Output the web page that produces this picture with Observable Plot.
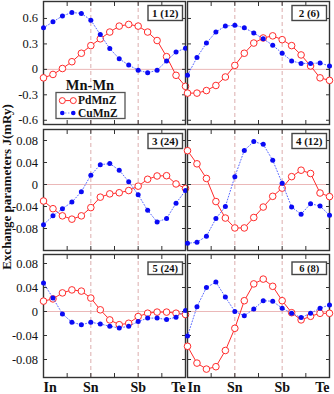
<!DOCTYPE html>
<html><head><meta charset="utf-8">
<script src="https://cdn.jsdelivr.net/npm/d3@7"></script>
<script src="https://cdn.jsdelivr.net/npm/@observablehq/plot@0.6"></script>
<style>
body{margin:0;background:#fff;}
#chart{position:relative;width:334px;height:394px;overflow:hidden;font-family:"Liberation Serif",serif;}
#chart svg{position:absolute;overflow:visible;background:transparent;}
</style></head><body><div id="chart"></div>
<script>
// ---- data ----
const steps = [0, 0.2, 0.4, 0.6, 0.8, 1.0, 1.2, 1.4, 1.6, 1.8, 2.0, 2.2, 2.4, 2.6, 2.8, 3.0];
const categories = ["In", "Sn", "Sb", "Te"];
const categoryPos = [0, 1, 2, 3];
const minorX = [0.5, 1, 1.5, 2, 2.5];
const yTicksTop = [-0.6, -0.3, 0, 0.3, 0.6];
const yTicksSmall = [-0.08, -0.04, 0, 0.04, 0.08];
const panelLabels = ["1 (12)", "2 (6)", "3 (24)", "4 (12)", "5 (24)", "6 (8)"];
const seriesNames = ["PdMnZ", "CuMnZ"];
const groupTitle = "Mn-Mn";
const yTitle = "Exchange parameters J(mRy)";

const pd1 = [-0.10, -0.06, 0.01, 0.09, 0.19, 0.28, 0.36, 0.44, 0.51, 0.53, 0.51, 0.44, 0.34, 0.15, -0.07, -0.20];
const cu1 = [0.49, 0.56, 0.63, 0.67, 0.66, 0.58, 0.41, 0.245, 0.125, 0.05, -0.01, -0.04, -0.01, 0.10, 0.205, 0.25];
const pd2 = [-0.28, -0.28, -0.25, -0.19, -0.09, 0.047, 0.19, 0.31, 0.37, 0.395, 0.35, 0.28, 0.17, 0.04, -0.10, -0.13];
const cu2 = [-0.07, 0.14, 0.31, 0.44, 0.51, 0.52, 0.49, 0.43, 0.36, 0.285, 0.19, 0.10, 0.07, 0.07, 0.075, 0.04];
const pd3 = [-0.030, -0.044, -0.057, -0.063, -0.057, -0.042, -0.023, -0.017, -0.015, -0.011, -0.003, 0.0095, 0.0155, 0.016, 0.001, -0.007];
const cu3 = [-0.073, -0.057, -0.044, -0.032, -0.013, 0.017, 0.036, 0.038, 0.026, 0.005, -0.0185, -0.047, -0.068, -0.062, -0.034, -0.011];
const pd4 = [0.0615, 0.0376, 0.011, -0.031, -0.061, -0.079, -0.079, -0.060, -0.041, -0.0215, -0.0066, 0.0143, 0.026, 0.020, -0.0155, -0.022];
const cu4 = [-0.107, -0.105, -0.094, -0.062, -0.040, 0.0143, 0.062, 0.078, 0.073, 0.044, 0.0024, -0.041, -0.054, -0.035, -0.039, -0.056];
const pd5 = [0.0173, 0.021, 0.031, 0.036, 0.034, 0.0224, 0.0028, -0.014, -0.022, -0.0196, -0.0084, -0.0028, -0.001, -0.001, -0.0028, -0.005];
const cu5 = [0.0476, 0.0224, -0.004, -0.018, -0.022, -0.018, -0.0207, -0.0246, -0.0274, -0.0246, -0.0168, -0.011, -0.011, -0.0134, -0.0095, 0.0017];
const pd6 = [-0.058, -0.086, -0.096, -0.092, -0.065, -0.028, 0.018, 0.046, 0.054, 0.042, 0.018, -0.002, -0.014, -0.008, -0.003, -0.003];
const cu6 = [-0.041, 0.008, 0.040, 0.049, 0.024, 0, -0.007, 0.004, 0.018, 0.017, 0.0055, -0.003, -0.010, -0.003, 0.0055, 0.011];

const pdSeries = [pd1, pd2, pd3, pd4, pd5, pd6];
const cuSeries = [cu1, cu2, cu3, cu4, cu5, cu6];

// ---- layout / style ----
const RED = "#ff2b2b", BLUE = "#0a0af5", BLUE_LINE = "#5868ff";
const FONT = "Liberation Serif";
const colLeft = [43, 187], frameW = 142;
const rowTop = [1, 129, 254], rowH = [123, 121, 123];
const rowDomain = [[-0.65, 0.8], [-0.12, 0.1], [-0.11, 0.095]];
const rowTicks = [yTicksTop, yTicksSmall, yTicksSmall];
const xBottom = 17;

const chart = document.getElementById("chart");
const catLabel = d => categories[categoryPos.indexOf(d)];

for (let i = 0; i < 6; i++) {
  const col = i % 2, row = Math.floor(i / 2);
  const data = steps.map((x, k) => ({x, pd: pdSeries[i][k], cu: cuSeries[i][k]}));
  const mL = col === 0 ? colLeft[0] : 0;
  const mB = row === 2 ? xBottom : 0;
  const yt = rowTicks[row];
  const marks = [
    Plot.ruleY([0], {stroke: "#ebb8b8", strokeWidth: 1}),
    Plot.ruleX([1, 2], {stroke: "#dcaeae", strokeDasharray: "4,3", strokeWidth: 1}),
    Plot.axisX(minorX, {anchor: "bottom", tickSize: -4, fill: "none", label: null, stroke: "#333"}),
    Plot.axisX(minorX, {anchor: "top", tickSize: -4, fill: "none", label: null, stroke: "#333"}),
    Plot.axisY(yt, {anchor: "left", tickSize: -4, fill: "none", label: null, stroke: "#333"}),
    Plot.axisY(yt, {anchor: "right", tickSize: -4, fill: "none", label: null, stroke: "#333"}),
    Plot.frame({stroke: "#333", strokeWidth: 1.4}),
    Plot.line(data, {x: "x", y: "pd", stroke: RED, strokeWidth: 1}),
    Plot.dot(data, {x: "x", y: "pd", r: 3.3, stroke: RED, fill: "white", strokeWidth: 1}),
    Plot.line(data, {x: "x", y: "cu", stroke: BLUE_LINE, strokeWidth: 1, strokeDasharray: "1,2"}),
    Plot.dot(data, {x: "x", y: "cu", r: 2.5, fill: BLUE, stroke: "none"})
  ];
  if (col === 0) {
    marks.push(Plot.axisY(yt, {anchor: "left", tickSize: 0, tickPadding: 5.5, tickFormat: d => String(d), fontSize: 12.5, label: null, fill: "#111"}));
  }
  if (row === 2) {
    const lab = {anchor: "bottom", tickSize: 0, tickPadding: 4.5, tickFormat: catLabel, fontSize: 14, fontWeight: "bold", label: null, fill: "#111"};
    marks.push(Plot.axisX([categoryPos[0]], {...lab, textAnchor: "start"}));
    marks.push(Plot.axisX(categoryPos.slice(1, 3), {...lab, textAnchor: "middle"}));
    marks.push(Plot.axisX([categoryPos[3]], {...lab, textAnchor: "end"}));
  }
  const p = Plot.plot({
    width: mL + frameW,
    height: rowH[row] + mB,
    marginLeft: mL, marginRight: 0, marginTop: 0, marginBottom: mB,
    x: {domain: [0, 3]},
    y: {domain: rowDomain[row]},
    style: {fontFamily: FONT, background: "transparent", overflow: "visible", color: "#222"},
    marks
  });
  p.style.left = (col === 0 ? 0 : colLeft[1]) + "px";
  p.style.top = rowTop[row] + "px";
  chart.appendChild(p);

  // panel label box
  const svg = d3.select(p);
  const bw = 34.5, bh = row === 2 ? 12.5 : 15, by = row === 2 ? 8 : 4.5;
  const bx = mL + frameW - 2.5 - bw;
  const g = svg.append("g");
  g.append("rect").attr("x", bx).attr("y", by).attr("width", bw).attr("height", bh)
    .attr("fill", "white").attr("stroke", "#444").attr("stroke-width", 1.4);
  g.append("text").attr("x", bx + bw / 2).attr("y", by + bh / 2).attr("dy", "0.36em")
    .attr("text-anchor", "middle").attr("font-family", FONT).attr("font-weight", "bold")
    .attr("font-size", row === 2 ? 10.5 : 11).attr("fill", "#111").text(panelLabels[i]);
}

// overlay: y title + legend
const ov = d3.select(chart).append("svg").attr("width", 334).attr("height", 394)
  .style("left", "0px").style("top", "0px").style("pointer-events", "none");
ov.append("text").attr("transform", "translate(10.5,187) rotate(-90)")
  .attr("text-anchor", "middle").attr("font-family", FONT).attr("font-weight", "bold")
  .attr("font-size", 13).attr("fill", "#111").text(yTitle);
ov.append("text").attr("x", 90).attr("y", 90).attr("text-anchor", "middle")
  .attr("font-family", FONT).attr("font-weight", "bold").attr("font-size", 14.5).attr("fill", "#111").text(groupTitle);
ov.append("rect").attr("x", 56).attr("y", 92.5).attr("width", 69).attr("height", 26)
  .attr("fill", "white").attr("stroke", "#555").attr("stroke-width", 1.3);
// row 1
ov.append("line").attr("x1", 62.3).attr("x2", 73.3).attr("y1", 100.6).attr("y2", 100.6).attr("stroke", RED);
[62.3, 73.3].forEach(cx => ov.append("circle").attr("cx", cx).attr("cy", 100.6).attr("r", 3).attr("fill", "white").attr("stroke", RED));
ov.append("text").attr("x", 78).attr("y", 104.3).attr("font-family", FONT).attr("font-weight", "bold")
  .attr("font-size", 11.5).attr("fill", "#111").text(seriesNames[0]);
// row 2
ov.append("line").attr("x1", 62.3).attr("x2", 73.3).attr("y1", 113).attr("y2", 113).attr("stroke", BLUE_LINE).attr("stroke-dasharray", "1,2");
[62.3, 73.3].forEach(cx => ov.append("circle").attr("cx", cx).attr("cy", 113).attr("r", 2.3).attr("fill", BLUE));
ov.append("text").attr("x", 78).attr("y", 116.8).attr("font-family", FONT).attr("font-weight", "bold")
  .attr("font-size", 11.5).attr("fill", "#111").text(seriesNames[1]);
</script></body></html>
